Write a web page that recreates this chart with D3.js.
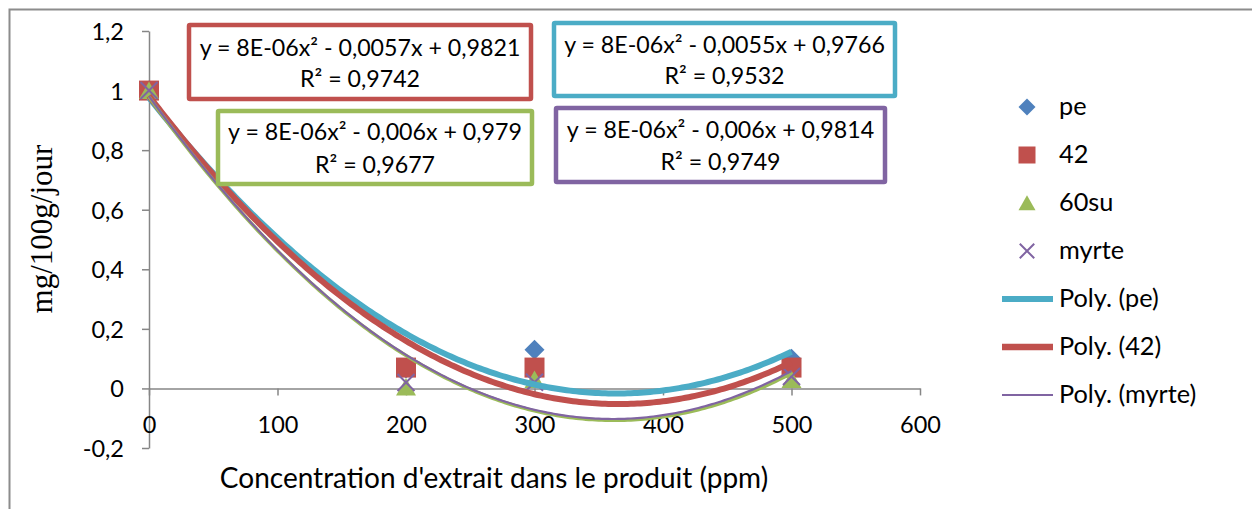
<!DOCTYPE html>
<html>
<head>
<meta charset="utf-8">
<script src="https://cdn.jsdelivr.net/npm/d3@7"></script>
<style>
  html, body { margin: 0; padding: 0; background: #fff; }
  svg { display: block; }
  text { font-family: Lato, "Open Sans", sans-serif; fill: #000; }
</style>
</head>
<body>
<svg id="chart" width="1252" height="509"></svg>
<script>
// ---------------- data ----------------
const concentrations = [0, 200, 300, 500];
const seriesNames = ["pe", "42", "60su", "myrte"];
const pe    = [1, 0.067, 0.13, 0.10];
const s42   = [1, 0.07, 0.07, 0.07];
const su60  = [1, 0.005, 0.03, 0.03];
const myrte = [1, 0.02, 0.021, 0.04];
const xTicks = [0, 100, 200, 300, 400, 500, 600];
const yTicks = [-0.2, 0, 0.2, 0.4, 0.6, 0.8, 1, 1.2];
const yTickLabels = ["-0,2", "0", "0,2", "0,4", "0,6", "0,8", "1", "1,2"];
const xTickLabels = ["0", "100", "200", "300", "400", "500", "600"];
const equations = [
  ["y = 8E-06x² - 0,0055x + 0,9766", "R² = 0,9532"],
  ["y = 8E-06x² - 0,0057x + 0,9821", "R² = 0,9742"],
  ["y = 8E-06x² - 0,006x + 0,979",   "R² = 0,9677"],
  ["y = 8E-06x² - 0,006x + 0,9814",  "R² = 0,9749"]
];
const legendLabels = ["pe", "42", "60su", "myrte", "Poly. (pe)", "Poly. (42)", "Poly. (myrte)"];
const xTitle = "Concentration d'extrait dans le produit (ppm)";
const yTitle = "mg/100g/jour";

// ---------------- styles ----------------
const colors = { pe: "#4F81BD", s42: "#C0504D", su60: "#9BBB59", myrte: "#8064A2", trendPe: "#4BACC6" };
const axisColor = "#868686";

const svg = d3.select("#chart");

// outer chart border
svg.append("path").attr("d", "M9.5,509 V9.5 H1252")
  .attr("fill", "none").attr("stroke", "#8c8c8c").attr("stroke-width", 2);

const x = d3.scaleLinear().domain([0, 600]).range([149, 920]);
const y = d3.scaleLinear().domain([-0.2, 1.2]).range([448, 31]);

// ---------------- axes ----------------
const yAxis = d3.axisLeft(y).tickValues(yTicks).tickSize(7).tickSizeOuter(0)
  .tickPadding(18).tickFormat((d, i) => yTickLabels[i]);
const gy = svg.append("g").attr("transform", `translate(${x(0)},0)`).call(yAxis);
gy.select(".domain").attr("stroke", axisColor).attr("stroke-width", 1.5);
gy.selectAll(".tick line").attr("stroke", axisColor).attr("stroke-width", 1.5);
gy.selectAll(".tick text").attr("font-size", 23.5).attr("font-family", "Lato").attr("fill", "#000").attr("dy", "0.36em");

const xAxis = d3.axisBottom(x).tickValues(xTicks).tickSize(7).tickSizeOuter(0)
  .tickPadding(21).tickFormat((d, i) => xTickLabels[i]);
const gx = svg.append("g").attr("transform", `translate(0,${y(0)})`).call(xAxis);
gx.select(".domain").attr("stroke", axisColor).attr("stroke-width", 1.5);
gx.selectAll(".tick line").attr("stroke", axisColor).attr("stroke-width", 1.5);
gx.selectAll(".tick text").attr("font-size", 23.5).attr("font-family", "Lato").attr("fill", "#000");

// axis titles
svg.append("text").attr("x", 494).attr("y", 488).attr("text-anchor", "middle")
  .attr("font-size", 28).text(xTitle);
svg.append("text").attr("transform", "translate(52,229) rotate(-90)").attr("text-anchor", "middle")
  .style("font-family", "'Liberation Serif', 'Times New Roman', serif").attr("font-size", 31).text(yTitle);

// ---------------- markers ----------------
function drawMarker(g, type, cx, cy, size, color) {
  const h = size / 2;
  if (type === "diamond") {
    g.append("path").attr("d", `M${cx},${cy - h}L${cx + h},${cy}L${cx},${cy + h}L${cx - h},${cy}Z`).attr("fill", color);
  } else if (type === "square") {
    g.append("rect").attr("x", cx - h).attr("y", cy - h).attr("width", size).attr("height", size).attr("fill", color);
  } else if (type === "triangle") {
    g.append("path").attr("d", `M${cx},${cy - h * 0.9}L${cx + h},${cy + h * 0.85}L${cx - h},${cy + h * 0.85}Z`).attr("fill", color);
  } else if (type === "x") {
    const k = h * 0.85;
    g.append("path").attr("d", `M${cx - k},${cy - k}L${cx + k},${cy + k}M${cx - k},${cy + k}L${cx + k},${cy - k}`)
      .attr("stroke", color).attr("stroke-width", 2).attr("fill", "none");
  }
}

const series = [
  { name: "pe", values: pe, marker: "diamond", color: colors.pe, trend: colors.trendPe, tw: 6 },
  { name: "42", values: s42, marker: "square", color: colors.s42, trend: colors.s42, tw: 6 },
  { name: "60su", values: su60, marker: "triangle", color: colors.su60, trend: colors.su60, tw: 3.5 },
  { name: "myrte", values: myrte, marker: "x", color: colors.myrte, trend: colors.myrte, tw: 2.2 }
];

const gMarks = svg.append("g");
series.forEach(s => {
  s.values.forEach((v, i) => drawMarker(gMarks, s.marker, x(concentrations[i]), y(v), 20, s.color));
});

// ---------------- polynomial trendlines (least squares, order 2) ----------------
function polyfit2(xs, ys) {
  const t = xs.map(v => v / 100);
  let S = [0, 0, 0, 0, 0], T = [0, 0, 0];
  t.forEach((tv, i) => {
    for (let k = 0; k < 5; k++) S[k] += Math.pow(tv, k);
    for (let k = 0; k < 3; k++) T[k] += Math.pow(tv, k) * ys[i];
  });
  const A = [[S[0], S[1], S[2], T[0]], [S[1], S[2], S[3], T[1]], [S[2], S[3], S[4], T[2]]];
  for (let c = 0; c < 3; c++) {
    for (let r = c + 1; r < 3; r++) {
      const f = A[r][c] / A[c][c];
      for (let k = c; k < 4; k++) A[r][k] -= f * A[c][k];
    }
  }
  const sol = [0, 0, 0];
  for (let r = 2; r >= 0; r--) {
    let s = A[r][3];
    for (let k = r + 1; k < 3; k++) s -= A[r][k] * sol[k];
    sol[r] = s / A[r][r];
  }
  return xv => { const tv = xv / 100; return sol[0] + sol[1] * tv + sol[2] * tv * tv; };
}

const gTrend = svg.append("g");
const line = d3.line().x(d => x(d[0])).y(d => y(d[1]));
const xs = d3.range(0, 500.01, 2.5);
series.forEach(s => {
  const f = polyfit2(concentrations, s.values);
  gTrend.append("path").attr("d", line(xs.map(v => [v, f(v)])))
    .attr("fill", "none").attr("stroke", s.trend).attr("stroke-width", s.tw)
    .attr("stroke-linejoin", "round");
});

// ---------------- equation boxes ----------------
const boxes = [
  { eq: 0, x0: 554, y0: 23, x1: 895, y1: 96, color: colors.trendPe, b1: 53, b2: 84 },
  { eq: 1, x0: 189, y0: 25, x1: 531, y1: 99, color: colors.s42, b1: 56, b2: 87 },
  { eq: 2, x0: 218, y0: 111, x1: 532, y1: 184, color: colors.su60, b1: 140, b2: 173 },
  { eq: 3, x0: 556, y0: 108, x1: 885, y1: 182, color: colors.myrte, b1: 138, b2: 170 }
];
const gBox = svg.append("g");
boxes.forEach(b => {
  gBox.append("rect").attr("x", b.x0).attr("y", b.y0).attr("width", b.x1 - b.x0).attr("height", b.y1 - b.y0)
    .attr("fill", "#fff").attr("stroke", b.color).attr("stroke-width", 4.5).attr("rx", 1);
  const cx = (b.x0 + b.x1) / 2;
  gBox.append("text").attr("x", cx).attr("y", b.b1).attr("text-anchor", "middle").attr("font-size", 23.2).text(equations[b.eq][0]);
  gBox.append("text").attr("x", cx).attr("y", b.b2).attr("text-anchor", "middle").attr("font-size", 23.2).text(equations[b.eq][1]);
});

// ---------------- legend ----------------
const gLeg = svg.append("g");
const legendItems = [
  { type: "marker", marker: "diamond", color: colors.pe },
  { type: "marker", marker: "square", color: colors.s42 },
  { type: "marker", marker: "triangle", color: colors.su60 },
  { type: "marker", marker: "x", color: colors.myrte },
  { type: "line", color: colors.trendPe, w: 6 },
  { type: "line", color: colors.s42, w: 6.5 },
  { type: "line", color: colors.myrte, w: 2 }
];
legendItems.forEach((it, i) => {
  const cy = 107 + i * 48;
  if (it.type === "marker") drawMarker(gLeg, it.marker, 1027, cy, 17, it.color);
  else gLeg.append("line").attr("x1", 1002).attr("x2", 1053).attr("y1", cy).attr("y2", cy)
    .attr("stroke", it.color).attr("stroke-width", it.w);
  gLeg.append("text").attr("x", 1059).attr("y", cy + 8).attr("font-size", 25.3).text(legendLabels[i]);
});
</script>
</body>
</html>
